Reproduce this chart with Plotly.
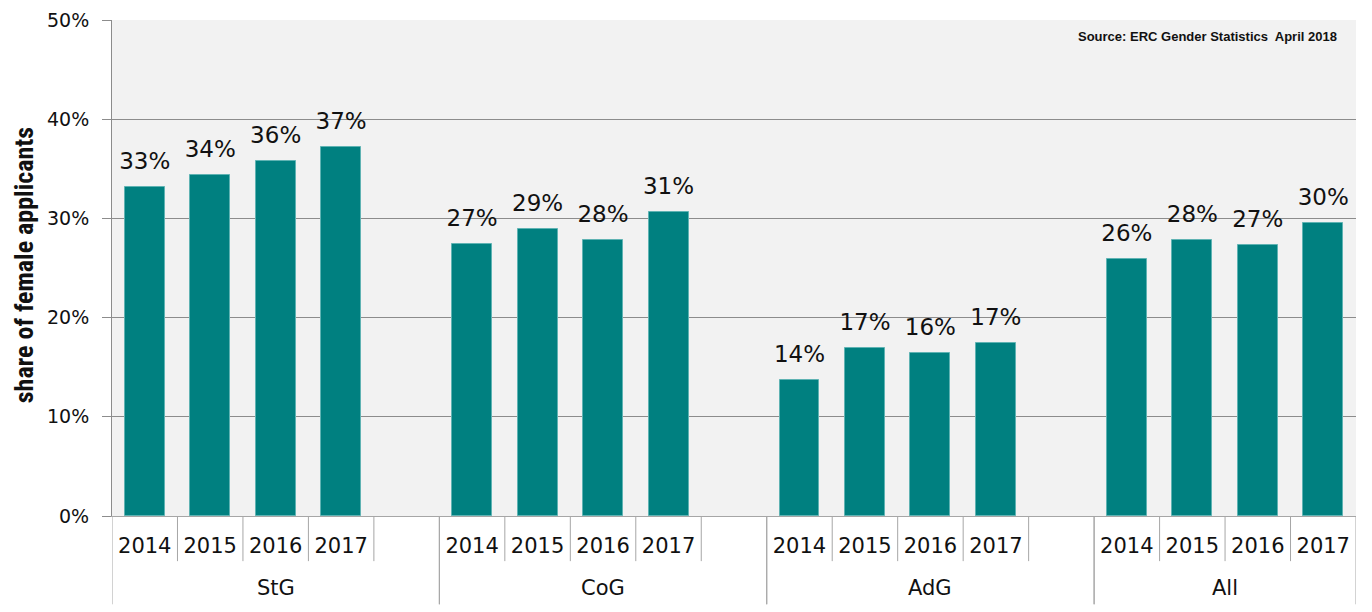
import plotly.graph_objects as go

groups = ["StG", "CoG", "AdG", "All"]
years = ["2014", "2015", "2016", "2017"]
values = {
    "StG": [33.2, 34.4, 35.8, 37.2],
    "CoG": [27.4, 28.9, 27.8, 30.6],
    "AdG": [13.7, 16.9, 16.4, 17.4],
    "All": [25.9, 27.8, 27.3, 29.5],
}
y_ticks = [0, 10, 20, 30, 40, 50]
y_tick_labels = ["0%", "10%", "20%", "30%", "40%", "50%"]
source_text = "Source: ERC Gender Statistics  April 2018"
y_title = "share of female applicants"

SLOTS = 5  # 4 years + one empty slot per group
xs, ys, txt, tick_x, tick_t = [], [], [], [], []
for gi, g in enumerate(groups):
    for yi, yr in enumerate(years):
        x = gi * SLOTS + yi + 0.5
        xs.append(x)
        ys.append(values[g][yi])
        txt.append(f"{round(values[g][yi]):.0f}%")
        tick_x.append(x)
        tick_t.append(yr)
total_slots = SLOTS * (len(groups) - 1) + len(years)

FONT = "DejaVu Sans"

fig = go.Figure()
fig.add_trace(go.Bar(
    x=xs, y=ys,
    marker=dict(color="#008080", line=dict(color="#5fb3b3", width=1)),
    width=0.61, hoverinfo="skip",
))
# value labels: invisible marker at bar top pushes the text up a little
fig.add_trace(go.Scatter(
    x=xs, y=ys, text=txt, mode="markers+text", textposition="top center",
    textfont=dict(family=FONT, size=23, color="#111"),
    marker=dict(size=18, color="rgba(0,0,0,0)"),
    cliponaxis=False, hoverinfo="skip",
))

shapes = []
grey = "#a6a6a6"
for gi in range(len(groups)):
    base = gi * SLOTS
    nslots = SLOTS if gi < len(groups) - 1 else len(years)
    for s in range(1, nslots):
        shapes.append(dict(type="line", xref="x", yref="paper", x0=base + s, x1=base + s,
                           y0=0, y1=-0.091, line=dict(color=grey, width=1)))
    for edge in (base, base + nslots):
        shapes.append(dict(type="line", xref="x", yref="paper", x0=edge, x1=edge,
                           y0=0, y1=-0.178, line=dict(color=grey, width=1)))

annotations = []
for gi, g in enumerate(groups):
    nslots = SLOTS if gi < len(groups) - 1 else len(years)
    annotations.append(dict(x=gi * SLOTS + nslots / 2, y=-0.145, xref="x", yref="paper",
                            text=g, showarrow=False, yanchor="middle",
                            font=dict(family=FONT, size=21, color="#111")))
annotations.append(dict(x=0.986, y=0.966, xref="paper", yref="paper", text=f"<b>{source_text}</b>",
                        showarrow=False, xanchor="right", yanchor="middle",
                        font=dict(family="Liberation Sans", size=13, color="#111")))
annotations.append(dict(x=-0.071, y=0.505, xref="paper", yref="paper", text=f"<b>{y_title}</b>",
                        textangle=-90, showarrow=False, xanchor="center", yanchor="middle",
                        font=dict(family="Liberation Sans Narrow, Roboto Condensed, sans-serif",
                                  size=26, color="#111")))

# page body adds an 8px offset; figure sized so the plot area lands at x 112-1356, y 20-516
fig.update_layout(
    width=1364, height=604,
    margin=dict(l=104, r=16, t=12, b=96),
    paper_bgcolor="white", plot_bgcolor="#f2f2f2",
    showlegend=False, bargap=0,
    shapes=shapes, annotations=annotations,
    xaxis=dict(range=[0, total_slots], tickmode="array", tickvals=tick_x, ticktext=tick_t,
               ticks="outside", ticklen=11, tickcolor="rgba(0,0,0,0)",
               tickfont=dict(family=FONT, size=21, color="#111"),
               showgrid=False, zeroline=False, showline=True, linecolor=grey, linewidth=1,
               automargin=False, fixedrange=True),
    yaxis=dict(range=[0, 50], tickmode="array", tickvals=y_ticks, ticktext=y_tick_labels,
               ticks="outside", ticklen=9, tickcolor="#8c8c8c", ticklabelstandoff=9,
               tickfont=dict(family=FONT, size=19, color="#111"),
               showgrid=True, gridcolor="#8c8c8c", gridwidth=1, zeroline=False,
               showline=True, linecolor="#8c8c8c", linewidth=1,
               automargin=False, fixedrange=True),
)

fig.write_html("out.html")
